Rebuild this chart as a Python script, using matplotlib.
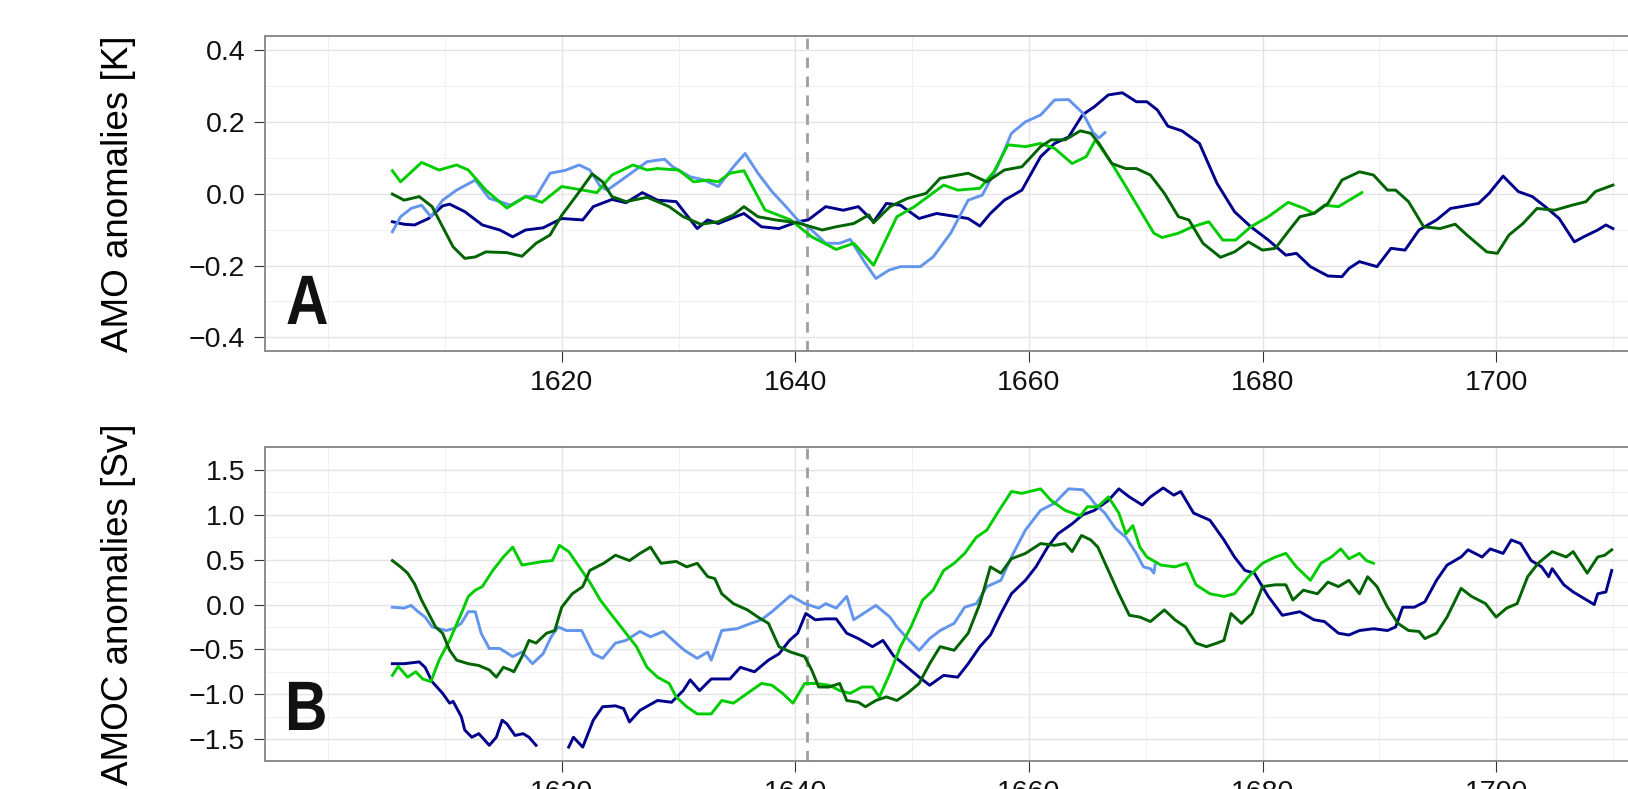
import numpy as np
import matplotlib
matplotlib.use("Agg")
import matplotlib.pyplot as plt
from matplotlib.ticker import FuncFormatter
from matplotlib.textpath import TextPath
from matplotlib.patches import PathPatch
from matplotlib.font_manager import FontProperties
import matplotlib.transforms as mtransforms

plt.rcParams['font.family'] = ['Liberation Sans', 'DejaVu Sans']

# --- colours of the four runs ---
c_navy = '#00008B'
c_light = '#6495ED'
c_green = '#00CD00'
c_dark = '#006400'

# --- Panel A: AMO anomalies [K] ---
amo_navy_yr = [1605.5, 1606.5, 1607.4, 1608.6, 1609.8, 1610.4, 1611.7, 1613.2, 1614.7, 1615.8,
               1616.9, 1618.4, 1620.0, 1621.8, 1622.7, 1624.3, 1625.5, 1626.9, 1628.2, 1629.8,
               1631.6, 1632.5, 1633.4, 1635.6, 1637.1, 1638.6, 1640.2, 1641.1, 1642.6, 1644.1,
               1645.4, 1646.7, 1647.8, 1649.0, 1650.6, 1652.1, 1654.8, 1655.8, 1656.7, 1657.9,
               1659.4, 1661.0, 1662.2, 1663.4, 1664.6, 1665.6, 1666.8, 1668.0, 1669.2, 1670.1,
               1671.0, 1671.9, 1673.1, 1674.6, 1676.1, 1677.6, 1679.0, 1680.5, 1682.0, 1682.9,
               1684.1, 1685.6, 1686.8, 1687.4, 1688.3, 1689.8, 1691.0, 1692.2, 1693.4, 1694.9,
               1696.1, 1697.0, 1698.5, 1699.4, 1700.6, 1701.9, 1703.1, 1704.2, 1705.4, 1706.7,
               1707.5, 1708.7, 1709.4, 1710.0]
amo_navy = [-0.078, -0.085, -0.087, -0.069, -0.034, -0.029, -0.050, -0.087, -0.101, -0.120,
            -0.101, -0.095, -0.069, -0.073, -0.036, -0.016, -0.025, 0.003, -0.018, -0.022,
            -0.097, -0.073, -0.083, -0.055, -0.092, -0.097, -0.078, -0.073, -0.036, -0.046,
            -0.036, -0.078, -0.027, -0.032, -0.069, -0.055, -0.069, -0.090, -0.055, -0.018,
            0.010, 0.103, 0.140, 0.158, 0.220, 0.242, 0.275, 0.281, 0.256, 0.256,
            0.233, 0.188, 0.175, 0.140, 0.029, -0.050, -0.092, -0.129, -0.171, -0.166,
            -0.203, -0.229, -0.231, -0.208, -0.189, -0.203, -0.152, -0.157, -0.101, -0.073,
            -0.041, -0.036, -0.027, 0.001, 0.049, 0.006, -0.008, -0.036, -0.069, -0.134,
            -0.120, -0.101, -0.087, -0.097]

amo_light_yr = [1605.5, 1606.2, 1607.1, 1608.0, 1608.8, 1609.8, 1611.0, 1612.6, 1613.8, 1614.7,
                1615.6, 1616.9, 1617.8, 1619.0, 1620.3, 1621.5, 1622.4, 1623.3, 1623.9, 1624.9,
                1626.1, 1627.3, 1628.8, 1629.5, 1631.0, 1632.2, 1633.4, 1634.7, 1635.7, 1636.8,
                1638.0, 1639.2, 1640.2, 1641.4, 1642.6, 1643.8, 1644.7, 1646.0, 1646.9, 1648.0,
                1649.0, 1650.7, 1651.8, 1653.3, 1654.8, 1656.0, 1657.3, 1658.5, 1659.7, 1661.0,
                1662.2, 1663.4, 1664.6, 1665.5, 1666.0, 1666.5]
amo_light = [-0.106, -0.064, -0.041, -0.032, -0.064, -0.018, 0.010, 0.038, -0.013, -0.022,
             -0.032, -0.008, -0.008, 0.057, 0.065, 0.080, 0.066, 0.020, 0.010, 0.033,
             0.061, 0.089, 0.096, 0.075, 0.047, 0.038, 0.020, 0.075, 0.112, 0.057,
             0.006, -0.036, -0.073, -0.101, -0.138, -0.138, -0.127, -0.194, -0.236, -0.213,
             -0.203, -0.203, -0.176, -0.110, -0.018, -0.004, 0.075, 0.168, 0.200, 0.219,
             0.261, 0.262, 0.225, 0.170, 0.155, 0.170]

amo_green_yr = [1605.5, 1606.2, 1608.0, 1609.5, 1611.0, 1612.0, 1613.5, 1615.3, 1616.9, 1618.3,
                1620.0, 1621.8, 1623.0, 1624.3, 1626.1, 1627.3, 1628.2, 1630.0, 1631.3, 1632.5,
                1633.4, 1634.4, 1635.6, 1637.4, 1639.6, 1641.4, 1643.5, 1645.0, 1646.7, 1648.7,
                1650.2, 1652.7, 1653.9, 1655.8, 1657.0, 1658.2, 1659.7, 1661.0, 1662.2, 1663.7,
                1664.9, 1665.7, 1667.1, 1668.3, 1669.5, 1670.7, 1671.4, 1672.8, 1674.0, 1675.4,
                1676.6, 1677.7, 1679.0, 1680.5, 1682.2, 1683.5, 1684.4, 1685.3, 1686.5, 1688.5]
amo_green = [0.064, 0.033, 0.087, 0.066, 0.080, 0.066, 0.010, -0.040, -0.008, -0.024,
             0.020, 0.010, 0.003, 0.052, 0.080, 0.066, 0.070, 0.066, 0.033, 0.038,
             0.033, 0.057, 0.064, -0.045, -0.073, -0.120, -0.155, -0.138, -0.199, -0.064,
             -0.036, 0.024, 0.010, 0.015, 0.061, 0.136, 0.131, 0.140, 0.126, 0.084,
             0.103, 0.150, 0.084, 0.020, -0.045, -0.110, -0.122, -0.110, -0.092, -0.078,
             -0.129, -0.129, -0.092, -0.064, -0.024, -0.040, -0.055, -0.032, -0.036, 0.003]

amo_dark_yr = [1605.5, 1606.5, 1607.8, 1608.9, 1609.8, 1610.7, 1611.7, 1612.6, 1613.5, 1615.3,
               1616.6, 1617.8, 1619.0, 1620.0, 1621.2, 1622.6, 1623.5, 1624.3, 1625.5, 1627.3,
               1628.2, 1629.2, 1630.4, 1631.9, 1633.4, 1634.7, 1635.6, 1636.8, 1638.3, 1640.2,
               1642.3, 1643.5, 1645.0, 1646.3, 1646.7, 1648.1, 1649.6, 1651.2, 1652.4, 1654.8,
               1656.4, 1657.9, 1659.4, 1661.0, 1661.9, 1663.1, 1664.4, 1665.3, 1666.0, 1667.1,
               1668.3, 1669.2, 1670.4, 1671.6, 1672.8, 1673.7, 1674.9, 1676.4, 1677.6, 1678.8,
               1680.0, 1681.1, 1682.3, 1683.2, 1684.4, 1685.6, 1686.8, 1688.3, 1689.5, 1690.7,
               1691.4, 1692.5, 1693.8, 1695.2, 1696.5, 1697.5, 1699.2, 1700.1, 1701.1, 1702.3,
               1703.5, 1705.0, 1706.5, 1707.7, 1708.5, 1710.0]
amo_dark = [-0.001, -0.018, -0.008, -0.036, -0.092, -0.148, -0.180, -0.176, -0.162, -0.164,
            -0.174, -0.138, -0.115, -0.060, -0.008, 0.055, 0.033, -0.008, -0.022, -0.010,
            -0.022, -0.036, -0.064, -0.085, -0.078, -0.059, -0.036, -0.064, -0.073, -0.081,
            -0.101, -0.092, -0.083, -0.059, -0.081, -0.036, -0.013, 0.001, 0.043, 0.057,
            0.033, 0.066, 0.075, 0.131, 0.150, 0.150, 0.175, 0.168, 0.140, 0.084,
            0.070, 0.070, 0.052, 0.001, -0.064, -0.073, -0.138, -0.177, -0.162, -0.134,
            -0.157, -0.152, -0.101, -0.064, -0.055, -0.027, 0.038, 0.061, 0.052, 0.010,
            0.010, -0.022, -0.092, -0.097, -0.085, -0.115, -0.162, -0.166, -0.115, -0.083,
            -0.041, -0.046, -0.032, -0.022, 0.006, 0.024]

# --- Panel B: AMOC anomalies [Sv] ---
amoc_navy_yr = [1605.5, 1606.5, 1607.8, 1608.3, 1608.9, 1609.8, 1610.4, 1610.7, 1611.4, 1611.7,
                1612.3, 1612.9, 1613.8, 1614.4, 1614.9, 1615.3, 1616.0, 1616.7, 1617.2, 1617.8,
                1618.8, 1619.8, 1620.6, 1621.0, 1621.8, 1622.7, 1623.5, 1624.6, 1625.3, 1625.8,
                1626.7, 1628.2, 1629.4, 1630.4, 1631.0, 1631.8, 1632.8, 1634.4, 1635.3, 1636.5,
                1637.7, 1638.6, 1639.5, 1640.2, 1640.9, 1641.7, 1642.6, 1643.5, 1644.4, 1645.4,
                1646.6, 1647.5, 1648.4, 1649.6, 1650.6, 1651.5, 1652.7, 1653.9, 1654.8, 1655.8,
                1656.7, 1657.6, 1658.5, 1659.7, 1660.6, 1661.6, 1662.5, 1663.7, 1664.6, 1665.6,
                1666.8, 1667.7, 1668.6, 1669.7, 1670.4, 1671.5, 1672.4, 1673.0, 1674.1, 1675.5,
                1676.7, 1677.6, 1678.5, 1679.3, 1680.5, 1681.7, 1683.2, 1684.4, 1685.3, 1686.5,
                1687.4, 1688.3, 1689.5, 1690.7, 1691.4, 1692.0, 1693.0, 1693.9, 1694.9, 1695.8,
                1697.0, 1697.6, 1698.8, 1699.5, 1700.6, 1701.3, 1702.1, 1703.0, 1703.9, 1704.5,
                1704.8, 1705.8, 1706.6, 1707.5, 1708.4, 1708.7, 1709.4, 1709.9]
amoc_navy = [-0.66, -0.66, -0.64, -0.70, -0.86, -0.99, -1.10, -1.08, -1.25, -1.40,
             -1.48, -1.44, -1.57, -1.48, -1.29, -1.33, -1.46, -1.44, -1.48, -1.57,
             -1.85, -1.90, -1.59, -1.48, -1.59, -1.29, -1.14, -1.13, -1.16, -1.31,
             -1.18, -1.07, -1.09, -0.96, -0.84, -0.96, -0.83, -0.83, -0.70, -0.75,
             -0.62, -0.55, -0.40, -0.32, -0.10, -0.17, -0.16, -0.16, -0.32, -0.38,
             -0.47, -0.40, -0.57, -0.70, -0.81, -0.90, -0.79, -0.81, -0.66, -0.47,
             -0.34, -0.10, 0.12, 0.27, 0.42, 0.64, 0.79, 0.90, 1.00, 1.05,
             1.16, 1.29, 1.20, 1.11, 1.20, 1.30, 1.22, 1.26, 1.02, 0.94,
             0.72, 0.53, 0.38, 0.35, 0.09, -0.12, -0.08, -0.17, -0.19, -0.32,
             -0.34, -0.29, -0.27, -0.29, -0.25, -0.03, -0.03, 0.03, 0.27, 0.44,
             0.53, 0.61, 0.53, 0.62, 0.57, 0.72, 0.68, 0.49, 0.42, 0.31,
             0.40, 0.22, 0.14, 0.07, 0.00, 0.12, 0.14, 0.38]

amoc_light_yr = [1605.5, 1606.5, 1607.1, 1607.7, 1608.3, 1608.9, 1610.1, 1610.7, 1611.4, 1612.0,
                 1612.6, 1613.1, 1613.8, 1614.7, 1615.8, 1616.6, 1617.5, 1618.4, 1619.1, 1619.7,
                 1620.4, 1621.7, 1622.7, 1623.5, 1624.6, 1625.5, 1626.7, 1627.6, 1628.7, 1629.8,
                 1630.5, 1631.6, 1632.5, 1632.8, 1633.7, 1635.0, 1636.2, 1637.1, 1638.0, 1639.6,
                 1640.8, 1642.0, 1642.6, 1643.5, 1644.4, 1645.0, 1646.3, 1646.9, 1648.1, 1648.7,
                 1649.6, 1650.6, 1651.5, 1652.4, 1653.6, 1654.5, 1655.5, 1656.4, 1657.6, 1658.5,
                 1659.7, 1661.0, 1662.2, 1663.4, 1664.6, 1665.2, 1665.6, 1666.5, 1667.4, 1668.3,
                 1669.2, 1669.8, 1670.4, 1670.7, 1670.8]
amoc_light = [-0.03, -0.04, -0.01, -0.08, -0.14, -0.25, -0.29, -0.27, -0.21, -0.08,
              -0.08, -0.32, -0.49, -0.49, -0.58, -0.53, -0.66, -0.55, -0.36, -0.25,
              -0.29, -0.29, -0.55, -0.60, -0.43, -0.40, -0.30, -0.36, -0.30, -0.43,
              -0.51, -0.60, -0.53, -0.62, -0.29, -0.27, -0.21, -0.17, -0.08, 0.10,
              0.01, -0.04, 0.01, -0.04, 0.09, -0.17, -0.06, -0.01, -0.14, -0.25,
              -0.38, -0.51, -0.38, -0.29, -0.21, -0.03, 0.01, 0.20, 0.27, 0.53,
              0.83, 1.05, 1.13, 1.29, 1.28, 1.20, 1.13, 1.02, 0.85, 0.75,
              0.57, 0.42, 0.40, 0.35, 0.44]

amoc_green_yr = [1605.5, 1606.0, 1606.8, 1607.5, 1608.1, 1608.8, 1609.5, 1610.4, 1611.4, 1612.0,
                 1612.6, 1613.2, 1614.1, 1615.0, 1615.8, 1616.6, 1617.5, 1618.4, 1619.2, 1619.8,
                 1620.6, 1621.5, 1622.4, 1623.3, 1624.3, 1625.5, 1626.4, 1627.3, 1628.2, 1629.2,
                 1629.8, 1630.7, 1631.6, 1632.8, 1633.7, 1634.7, 1635.9, 1637.1, 1638.0, 1638.9,
                 1639.8, 1640.8, 1641.7, 1642.9, 1643.8, 1644.7, 1645.7, 1646.6, 1647.2, 1648.1,
                 1649.0, 1649.9, 1650.9, 1651.8, 1652.7, 1653.6, 1654.5, 1655.5, 1656.4, 1657.3,
                 1658.5, 1659.4, 1661.0, 1661.9, 1663.1, 1664.4, 1665.0, 1665.9, 1666.8, 1667.7,
                 1668.3, 1668.9, 1669.5, 1670.1, 1671.3, 1672.5, 1673.5, 1674.3, 1675.5, 1676.7,
                 1677.6, 1678.8, 1680.0, 1681.1, 1682.0, 1682.9, 1684.1, 1685.0, 1685.9, 1686.7,
                 1687.4, 1688.3, 1688.9, 1689.5]
amoc_green = [-0.79, -0.69, -0.81, -0.75, -0.83, -0.86, -0.62, -0.40, -0.10, 0.09,
              0.16, 0.20, 0.38, 0.53, 0.64, 0.44, 0.46, 0.48, 0.49, 0.66,
              0.59, 0.42, 0.25, 0.05, -0.12, -0.32, -0.47, -0.70, -0.81, -0.88,
              -1.03, -1.14, -1.22, -1.22, -1.07, -1.10, -0.99, -0.88, -0.90, -0.99,
              -1.10, -0.88, -0.88, -0.90, -0.96, -0.99, -0.92, -0.92, -1.03, -0.77,
              -0.47, -0.25, 0.05, 0.16, 0.38, 0.46, 0.57, 0.75, 0.83, 1.02,
              1.26, 1.24, 1.29, 1.16, 1.05, 0.99, 1.09, 1.09, 1.20, 1.02,
              0.79, 0.88, 0.64, 0.53, 0.44, 0.42, 0.46, 0.22, 0.12, 0.09,
              0.12, 0.31, 0.46, 0.53, 0.57, 0.42, 0.27, 0.46, 0.53, 0.62,
              0.51, 0.57, 0.49, 0.46]

amoc_dark_yr = [1605.5, 1606.2, 1606.8, 1607.4, 1608.0, 1608.6, 1609.2, 1609.8, 1610.4, 1611.0,
                1612.0, 1612.9, 1613.8, 1614.4, 1615.0, 1615.6, 1615.9, 1616.6, 1617.2, 1617.8,
                1618.7, 1619.4, 1620.0, 1620.9, 1621.8, 1622.4, 1623.6, 1624.6, 1625.8, 1626.7,
                1627.6, 1628.5, 1629.8, 1630.7, 1631.6, 1632.5, 1633.1, 1633.7, 1634.7, 1635.9,
                1636.8, 1637.7, 1638.6, 1639.6, 1640.8, 1641.4, 1642.0, 1642.9, 1643.8, 1644.4,
                1645.4, 1646.0, 1646.9, 1647.8, 1648.7, 1649.6, 1650.6, 1651.5, 1652.4, 1653.6,
                1654.8, 1655.8, 1656.7, 1657.6, 1658.5, 1659.7, 1661.0, 1662.2, 1663.1, 1663.7,
                1664.5, 1665.3, 1665.9, 1666.8, 1667.7, 1668.6, 1669.5, 1670.4, 1671.6, 1672.5,
                1673.4, 1674.3, 1675.2, 1676.1, 1676.7, 1677.3, 1678.2, 1679.1, 1680.0, 1681.1,
                1682.0, 1682.6, 1683.5, 1684.7, 1685.6, 1686.5, 1687.4, 1688.3, 1689.0, 1689.8,
                1690.7, 1691.6, 1692.5, 1693.4, 1693.9, 1694.9, 1695.8, 1697.0, 1697.9, 1699.1,
                1700.0, 1700.9, 1701.8, 1702.7, 1703.6, 1704.8, 1706.0, 1706.6, 1707.8, 1708.7,
                1709.3, 1709.9]
amoc_dark = [0.49, 0.42, 0.35, 0.23, 0.05, -0.10, -0.25, -0.32, -0.51, -0.62,
             -0.66, -0.68, -0.73, -0.81, -0.70, -0.73, -0.75, -0.58, -0.40, -0.43,
             -0.32, -0.29, -0.03, 0.12, 0.20, 0.38, 0.46, 0.55, 0.49, 0.57,
             0.64, 0.46, 0.48, 0.42, 0.46, 0.31, 0.29, 0.12, 0.01, -0.06,
             -0.14, -0.21, -0.47, -0.53, -0.58, -0.73, -0.92, -0.92, -0.88, -1.07,
             -1.09, -1.14, -1.07, -1.03, -1.07, -0.99, -0.88, -0.66, -0.47, -0.51,
             -0.32, 0.01, 0.42, 0.35, 0.51, 0.57, 0.68, 0.66, 0.68, 0.59,
             0.77, 0.72, 0.64, 0.38, 0.12, -0.12, -0.14, -0.19, -0.06, -0.17,
             -0.25, -0.43, -0.47, -0.43, -0.40, -0.10, -0.21, -0.10, 0.20, 0.22,
             0.22, 0.05, 0.16, 0.12, 0.25, 0.20, 0.27, 0.12, 0.31, 0.20,
             -0.03, -0.21, -0.29, -0.30, -0.38, -0.32, -0.14, 0.18, 0.09, 0.01,
             -0.14, -0.04, 0.01, 0.31, 0.46, 0.59, 0.53, 0.59, 0.35, 0.53,
             0.55, 0.61]

# --- axis settings ---
event_year = 1641
x_major = [1620, 1640, 1660, 1680, 1700]
x_minor = [1600, 1610, 1630, 1650, 1670, 1690, 1710]
xlim = (1594.62, 1712.32)

amo_ylim = (-0.437, 0.439)
amo_yticks = [-0.4, -0.2, 0.0, 0.2, 0.4]
amo_yminor = [-0.3, -0.1, 0.1, 0.3]

amoc_ylim = (-1.745, 1.76)
amoc_yticks = [-1.5, -1.0, -0.5, 0.0, 0.5, 1.0, 1.5]
amoc_yminor = [-1.25, -0.75, -0.25, 0.25, 0.75, 1.25]

W, H = 1628, 789
fig = plt.figure(figsize=(W / 100, H / 100), dpi=100)
left = 265.3 / W
width = (1640 - 265.3) / W
axA = fig.add_axes([left, 1 - 350.7 / H, width, 314.7 / H])
axB = fig.add_axes([left, 1 - 761.0 / H, width, 314.3 / H])

fmt = FuncFormatter(lambda v, p: f'{v:.1f}'.replace('-', '\u2212'))


def style(ax, ylim, yticks, yminor):
    ax.set_xlim(*xlim)
    ax.set_ylim(*ylim)
    ax.set_xticks(x_major)
    ax.set_xticks(x_minor, minor=True)
    ax.set_yticks(yticks)
    ax.set_yticks(yminor, minor=True)
    ax.yaxis.set_major_formatter(fmt)
    ax.grid(which='major', color='#E3E3E3', linewidth=1.0)
    ax.grid(which='minor', color='#F1F1F1', linewidth=0.8)
    ax.set_axisbelow(True)
    ax.tick_params(which='minor', length=0)
    ax.tick_params(which='major', length=8, width=0.8, color='#333333',
                   labelsize=20.5, labelcolor='#111111')
    ax.tick_params(axis='y', pad=6.5)
    ax.tick_params(axis='x', pad=6)
    for s in ax.spines.values():
        s.set_color('#8C8C8C')
        s.set_linewidth(1.4)
    ax.axvline(event_year, color='#9E9E9E', lw=2.0, ls=(0, (3.8, 3.0)), zorder=1.5)


def draw(ax, yr, vals, color, ylim):
    v = np.array(vals, dtype=float)
    v[(v < ylim[0]) | (v > ylim[1])] = np.nan  # out-of-range values leave a gap
    ax.plot(yr, v, color=color, lw=2.1, solid_joinstyle='round', zorder=3)


style(axA, amo_ylim, amo_yticks, amo_yminor)
draw(axA, amo_navy_yr, amo_navy, c_navy, amo_ylim)
draw(axA, amo_light_yr, amo_light, c_light, amo_ylim)
draw(axA, amo_green_yr, amo_green, c_green, amo_ylim)
draw(axA, amo_dark_yr, amo_dark, c_dark, amo_ylim)

style(axB, amoc_ylim, amoc_yticks, amoc_yminor)
draw(axB, amoc_navy_yr, amoc_navy, c_navy, amoc_ylim)
draw(axB, amoc_light_yr, amoc_light, c_light, amoc_ylim)
draw(axB, amoc_green_yr, amoc_green, c_green, amoc_ylim)
draw(axB, amoc_dark_yr, amoc_dark, c_dark, amoc_ylim)


# panel letters: bold, horizontally condensed glyph outlines placed in figure pixels
def panel_letter(letter, x_px, base_px, em_px=70.0, squeeze=0.84):
    path = TextPath((0, 0), letter, size=1,
                    prop=FontProperties(family='Liberation Sans', weight='bold'))
    tr = (mtransforms.Affine2D().scale(em_px * squeeze / W, em_px / H)
          .translate(x_px / W, 1 - base_px / H) + fig.transFigure)
    fig.add_artist(PathPatch(path, transform=tr, facecolor='#111111', lw=0, zorder=5))


panel_letter('A', 286, 324)
panel_letter('B', 285, 730)

fig.text(118 / W, 1 - 193.4 / H, 'AMO anomalies [K]', rotation=90, fontsize=26.5,
         ha='center', va='center')
fig.text(118 / W, 1 - 604.0 / H, 'AMOC anomalies [Sv]', rotation=90, fontsize=26.5,
         ha='center', va='center')

fig.savefig('out.png', dpi=100, facecolor='white')
